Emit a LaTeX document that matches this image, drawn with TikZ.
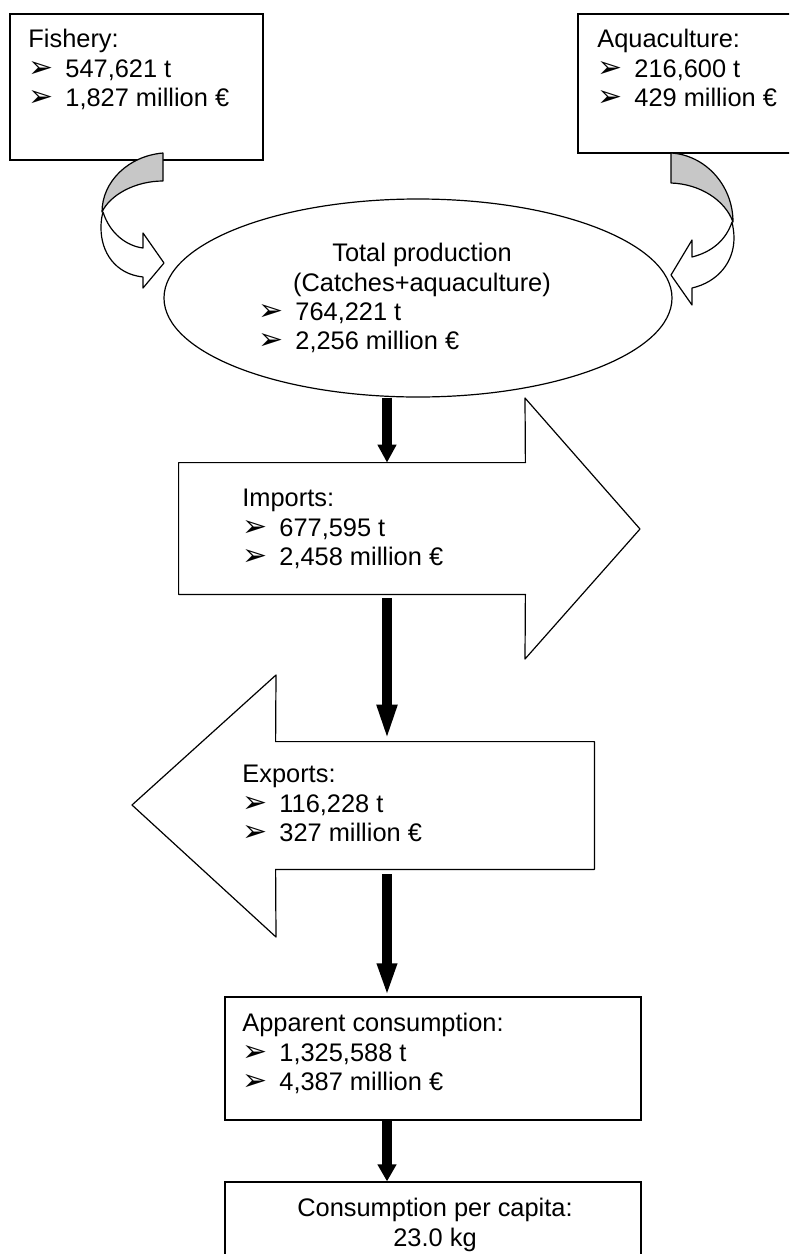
\documentclass[tikz,border=0pt]{standalone}
\usepackage{fontspec}
\setmainfont{Liberation Sans}
\newfontfamily\dingfont{DejaVu Sans}
\usetikzlibrary{arrows.meta}
\usetikzlibrary{fit}
\usetikzlibrary{shapes.geometric}
\newcommand{\itm}{\makebox[18.5pt][l]{\smash{\dingfont\fontsize{15}{15}\selectfont ➢}}}

\begin{document}
\begin{tikzpicture}[x=0.5pt,y=-0.5pt,
  font=\fontsize{12.7}{14.75}\selectfont,
  box/.style={rectangle,draw=black,line width=0.6pt,inner sep=0pt},
  txt/.style={inner sep=0pt,align=left,anchor=north west},
  band/.style={draw=black,line width=0.6pt,line join=round,fill=white},
  flow/.style={line width=5pt,-{Triangle[length=#1,width=9pt]}}]
\useasboundingbox (0,0) rectangle (789,1254);
\clip (0,0) rectangle (789,1254);
\coordinate (spine) at (387,0);
\node (fish) [box,fit={(10,14) (263,160)}] {};
\node (aqua) [box,fit={(578,14) (800,153)}] {};
\node at (418,298) (total) [ellipse,draw=black,line width=0.6pt,minimum width=254pt,minimum height=99pt,inner sep=0pt] {};
\node (imp) [fit={(179,463) (525,594)},inner sep=0pt] {};
\node (exp) [fit={(276,742) (594,869)},inner sep=0pt] {};
\node (app) [box,fit={(225,997) (641,1120)}] {};
\node (cap) [box,fit={(225,1182) (641,1264)}] {};
\draw [band] (imp.north west) -- (imp.north east) -- (525,398) -- (640,529) -- (525,659) -- (imp.south east) -- (imp.south west) -- cycle;
\draw [band] (exp.north east) -- (exp.north west) -- (276,675) -- (132,805) -- (276,937) -- (exp.south west) -- (exp.south east) -- cycle;
\draw [band,fill=black!22] (163,153) .. controls (128,156) and (102,182) .. (102,212) .. controls (110,195) and (135,181) .. (163,181) -- cycle;
\draw [band] (103,212) .. controls (110,234) and (127,246) .. (143,248) -- (143,233) -- (164,263) -- (143,288) -- (143,277) .. controls (115,274) and (101,252) .. (101,228) .. controls (101,220) and (102,216) .. (103,212) -- cycle;
\draw [band,fill=black!22] (671,153) .. controls (705,155) and (733,185) .. (733,222) .. controls (725,200) and (700,184) .. (671,183) -- cycle;
\draw [band] (732,222) .. controls (726,240) and (712,252) .. (692,257) -- (692,240) -- (671,275) -- (692,305) -- (692,288) .. controls (718,282) and (734,262) .. (734,238) .. controls (734,232) and (733,227) .. (732,222) -- cycle;
\node at (28,29) (fishtxt) [txt] {Fishery:\\\itm 547,621 t\\\itm 1,827 million €};
\node at (597,29) (aquatxt) [txt] {Aquaculture:\\\itm 216,600 t\\\itm 429 million €};
\node at (422,243) (tottxt) [txt,anchor=north,align=center] {Total production\\(Catches+aquaculture)};
\node at (258,302) (totval) [txt] {\itm 764,221 t\\\itm 2,256 million €};
\node at (242,489) (imptxt) [txt] {Imports:\\\itm 677,595 t\\\itm 2,458 million €};
\node at (242,765) (exptxt) [txt] {Exports:\\\itm 116,228 t\\\itm 327 million €};
\node at (242,1013) (apptxt) [txt] {Apparent consumption:\\\itm 1,325,588 t\\\itm 4,387 million €};
\node at (435,1198) (captxt) [txt,anchor=north,align=center] {Consumption per capita:\\23.0 kg};
\draw [flow=9pt] (total.south -| spine) -- (imp.north -| spine);
\draw [flow=18.5pt,shorten <=2pt] (imp.south -| spine) -- (exp.north -| spine);
\draw [flow=16.5pt,shorten <=2.5pt] (exp.south -| spine) -- (app.north -| spine);
\draw [flow=8.5pt] (app.south -| spine) -- (cap.north -| spine);
\end{tikzpicture}
\end{document}
